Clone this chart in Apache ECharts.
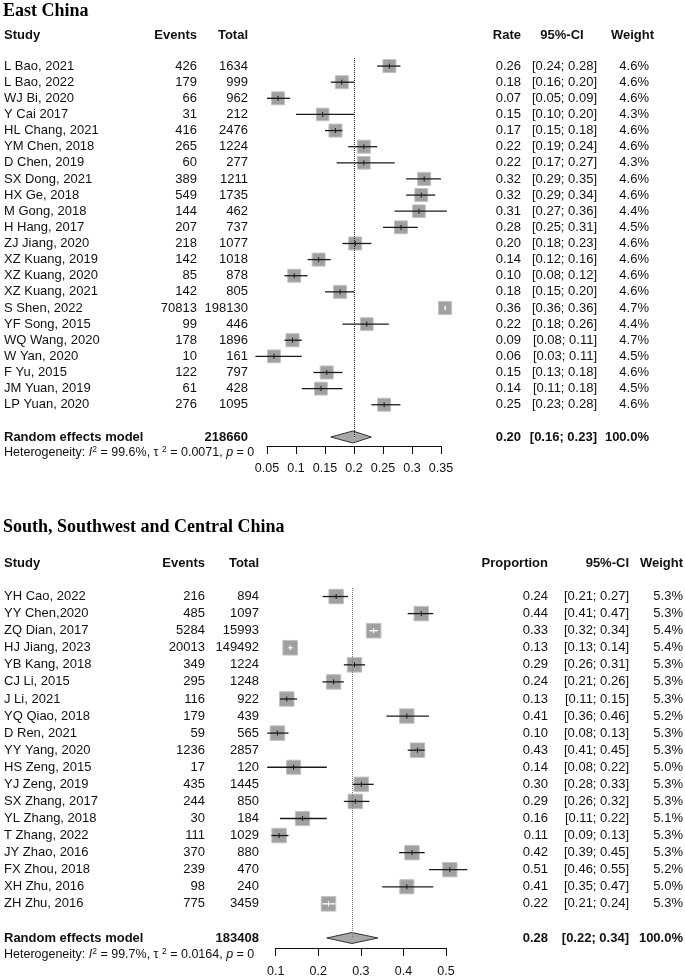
<!DOCTYPE html>
<html><head><meta charset="utf-8">
<script src="https://cdn.jsdelivr.net/npm/echarts@6/dist/echarts.min.js"></script>
<style>html,body{margin:0;padding:0;background:#fff}#c{width:685px;height:979px}</style>
</head><body><div id="c"></div>
<script>
// ---------- East China ----------
const eastStudies = ["L Bao, 2021","L Bao, 2022","WJ Bi, 2020","Y Cai 2017","HL Chang, 2021","YM Chen, 2018","D Chen, 2019","SX Dong, 2021","HX Ge, 2018","M Gong, 2018","H Hang, 2017","ZJ Jiang, 2020","XZ Kuang, 2019","XZ Kuang, 2020","XZ Kuang, 2021","S Shen, 2022","YF Song, 2015","WQ Wang, 2020","W Yan, 2020","F Yu, 2015","JM Yuan, 2019","LP Yuan, 2020"];
const eastEvents = [426,179,66,31,416,265,60,389,549,144,207,218,142,85,142,70813,99,178,10,122,61,276];
const eastTotal = [1634,999,962,212,2476,1224,277,1211,1735,462,737,1077,1018,878,805,198130,446,1896,161,797,428,1095];
const eastRate = [0.261,0.179,0.069,0.146,0.168,0.217,0.217,0.321,0.316,0.312,0.281,0.202,0.139,0.097,0.176,0.357,0.222,0.094,0.062,0.153,0.143,0.252];
const eastLower = [0.24,0.16,0.05,0.10,0.15,0.19,0.17,0.29,0.29,0.27,0.25,0.18,0.12,0.08,0.15,0.356,0.18,0.08,0.03,0.13,0.11,0.23];
const eastUpper = [0.28,0.20,0.09,0.20,0.18,0.24,0.27,0.35,0.34,0.36,0.31,0.23,0.16,0.12,0.20,0.359,0.26,0.11,0.11,0.18,0.18,0.28];
const eastWeight = [4.6,4.6,4.6,4.3,4.6,4.6,4.3,4.6,4.6,4.4,4.5,4.6,4.6,4.6,4.6,4.7,4.4,4.7,4.5,4.6,4.5,4.6];
const eastPooled = [0.198, 0.16, 0.23];
const eastPooledTotal = 218660;
const eastHet = ["99.6%", "0.0071", "0"];
const eastTicks = [0.05, 0.1, 0.15, 0.2, 0.25, 0.3, 0.35];

// ---------- South, Southwest and Central China ----------
const southStudies = ["YH Cao, 2022","YY Chen,2020","ZQ Dian, 2017","HJ Jiang, 2023","YB Kang, 2018","CJ Li, 2015","J Li, 2021","YQ Qiao, 2018","D Ren, 2021","YY Yang, 2020","HS Zeng, 2015","YJ Zeng, 2019","SX Zhang, 2017","YL Zhang, 2018","T Zhang, 2022","JY Zhao, 2016","FX Zhou, 2018","XH Zhu, 2016","ZH Zhu, 2016"];
const southEvents = [216,485,5284,20013,349,295,116,179,59,1236,17,435,244,30,111,370,239,98,775];
const southTotal = [894,1097,15993,149492,1224,1248,922,439,565,2857,120,1445,850,184,1029,880,470,240,3459];
const southRate = [0.242,0.442,0.330,0.134,0.2851,0.236,0.126,0.408,0.104,0.433,0.142,0.301,0.287,0.163,0.108,0.420,0.509,0.408,0.224];
const southLower = [0.21,0.41,0.32,0.13,0.26,0.21,0.11,0.36,0.08,0.41,0.08,0.28,0.26,0.11,0.09,0.39,0.46,0.35,0.21];
const southUpper = [0.27,0.47,0.34,0.14,0.31,0.26,0.15,0.46,0.13,0.45,0.22,0.33,0.32,0.22,0.13,0.45,0.55,0.47,0.24];
const southWeight = [5.3,5.3,5.4,5.4,5.3,5.3,5.3,5.2,5.3,5.3,5.0,5.3,5.3,5.1,5.3,5.3,5.2,5.0,5.3];
const southPooled = [0.279, 0.22, 0.34];
const southPooledTotal = 183408;
const southHet = ["99.7%", "0.0164", "0"];
const southTicks = [0.1, 0.2, 0.3, 0.4, 0.5];

const SANS = '"Liberation Sans", Arial, Helvetica, sans-serif';
const SERIF = '"Liberation Serif", "Times New Roman", serif';
const TXT = '#111';

function ciText(lo, hi) { return '[' + lo.toFixed(2) + '; ' + hi.toFixed(2) + ']'; }

function txt(x, y, s, align, bold) {
  return { type: 'text', style: { x: x, y: y, text: s, font: (bold ? 'bold ' : '') + '13px ' + SANS, fill: TXT, textAlign: align, textVerticalAlign: 'middle' } };
}

function rowRenderer(cfg, studies, events, totals, rates, lowers, uppers, weights) {
  return function (params, api) {
    const k = params.dataIndex;
    const i = api.value(0), est = api.value(1), lo = api.value(2), hi = api.value(3), w = api.value(4);
    const c = api.coord([est, i]);
    const l = api.coord([lo, i]);
    const h = api.coord([hi, i]);
    const s = cfg.sq * Math.sqrt(w / cfg.refW);
    const inside = (h[0] - l[0]) <= s;
    const lc = inside ? '#ffffff' : '#1a1a1a';
    const y = c[1];
    const ch = [
      { type: 'rect', shape: { x: c[0] - s / 2, y: y - s / 2, width: s, height: s }, style: { fill: '#a0a0a0', stroke: '#c2c2c2', lineWidth: 1 } },
      { type: 'line', shape: { x1: l[0], y1: y, x2: h[0], y2: y }, style: { stroke: lc, lineWidth: 1.3 } },
      { type: 'line', shape: { x1: c[0], y1: y - 2.5, x2: c[0], y2: y + 2.5 }, style: { stroke: lc, lineWidth: 1 } },
      txt(cfg.cStudy, y, studies[k], 'left'),
      txt(cfg.cEvents, y, String(events[k]), 'right'),
      txt(cfg.cTotal, y, String(totals[k]), 'right'),
      txt(cfg.cRate, y, rates[k].toFixed(2), 'right'),
      txt(cfg.cCI, y, ciText(lowers[k], uppers[k]), 'right'),
      txt(cfg.cWeight, y, weights[k].toFixed(1) + '%', 'right')
    ];
    return { type: 'group', children: ch };
  };
}

function pooledRenderer(cfg, pooledTotal, het) {
  return function (params, api) {
    const i = api.value(0), est = api.value(1), lo = api.value(2), hi = api.value(3);
    const c = api.coord([est, i]);
    const l = api.coord([lo, i]);
    const h = api.coord([hi, i]);
    const y = c[1];
    const hh = cfg.dh;
    const rich = {
      n: { fontSize: 12.5, fontFamily: SANS, fill: TXT, lineHeight: 15, verticalAlign: 'middle' },
      i: { fontSize: 12.5, fontFamily: SANS, fontStyle: 'italic', fill: TXT, lineHeight: 15, verticalAlign: 'middle' },
      s: { fontSize: 8.5, fontFamily: SANS, fill: TXT, lineHeight: 15, verticalAlign: 'top' }
    };
    return { type: 'group', children: [
      { type: 'polygon', shape: { points: [[l[0], y], [c[0], y - hh], [h[0], y], [c[0], y + hh]] }, style: { fill: '#a8a8a8', stroke: '#333', lineWidth: 1 } },
      txt(cfg.cStudy, y, 'Random effects model', 'left', true),
      txt(cfg.cTotal, y, String(pooledTotal), 'right', true),
      txt(cfg.cRate, y, est.toFixed(2), 'right', true),
      txt(cfg.cCI, y, ciText(lo, hi), 'right', true),
      txt(cfg.cWeight, y, '100.0%', 'right', true),
      { type: 'text', style: { x: cfg.cStudy, y: y + cfg.hetDy, textAlign: 'left', textVerticalAlign: 'middle',
          text: '{n|Heterogeneity: }{i|I}{s|2}{n| = ' + het[0] + ', τ }{s|2}{n| = ' + het[1] + ', }{i|p}{n| = ' + het[2] + '}',
          rich: rich } }
    ] };
  };
}

const eastCfg = { sq: 13, refW: 4.6, dh: 6, hetDy: 16, cStudy: 4, cEvents: 197, cTotal: 248, cRate: 521, cCI: 597, cWeight: 649 };
const southCfg = { sq: 14.5, refW: 5.3, dh: 5.5, hetDy: 17, cStudy: 4, cEvents: 205, cTotal: 259, cRate: 548, cCI: 629, cWeight: 683 };

function axisCfg(grid, ticks, offset, margin) {
  return {
    gridIndex: grid, type: 'value', position: 'bottom', min: ticks[0], max: ticks[ticks.length - 1],
    interval: +(ticks[1] - ticks[0]).toFixed(4), offset: offset,
    axisLine: { show: true, onZero: false, lineStyle: { color: '#111', width: 1 } },
    axisTick: { show: true, length: 8, lineStyle: { color: '#111', width: 1 } },
    axisLabel: { fontSize: 12.5, fontFamily: SANS, color: TXT, margin: margin, formatter: function (v) { return String(+v.toFixed(2)); } },
    splitLine: { show: false }
  };
}

const option = {
  animation: false,
  backgroundColor: '#fff',
  grid: [
    { left: 267, width: 174, top: 58, height: 379 },
    { left: 275.7, width: 170.3, top: 588, height: 350 }
  ],
  xAxis: [axisCfg(0, eastTicks, 9, 16), axisCfg(1, southTicks, 10, 17)],
  yAxis: [
    { gridIndex: 0, type: 'value', min: -0.5, max: eastStudies.length + 1, inverse: true, show: false },
    { gridIndex: 1, type: 'value', min: -0.5, max: southStudies.length + 1, inverse: true, show: false }
  ],
  graphic: [
    { type: 'text', x: 3, y: 11, style: { text: 'East China', font: 'bold 18px ' + SERIF, fill: '#000', textAlign: 'left', textVerticalAlign: 'middle' } },
    { type: 'text', x: 3, y: 527, style: { text: 'South, Southwest and Central China', font: 'bold 18px ' + SERIF, fill: '#000', textAlign: 'left', textVerticalAlign: 'middle' } },
    { type: 'group', children: [
      txt(4, 35, 'Study', 'left', true), txt(197, 35, 'Events', 'right', true), txt(248, 35, 'Total', 'right', true),
      txt(521, 35, 'Rate', 'right', true), txt(562, 35, '95%-CI', 'center', true), txt(654, 35, 'Weight', 'right', true),
      txt(4, 563, 'Study', 'left', true), txt(205, 563, 'Events', 'right', true), txt(259, 563, 'Total', 'right', true),
      txt(548, 563, 'Proportion', 'right', true), txt(629, 563, '95%-CI', 'right', true), txt(683, 563, 'Weight', 'right', true)
    ] }
  ],
  series: [
    { type: 'line', xAxisIndex: 0, yAxisIndex: 0, data: [], z: 1, silent: true,
      markLine: { silent: true, symbol: ['none', 'none'], label: { show: false }, lineStyle: { type: 'dotted', color: '#222', width: 1 }, data: [{ xAxis: eastPooled[0] }] } },
    { type: 'line', xAxisIndex: 1, yAxisIndex: 1, data: [], z: 1, silent: true,
      markLine: { silent: true, symbol: ['none', 'none'], label: { show: false }, lineStyle: { type: 'dotted', color: '#777', width: 1 }, data: [{ xAxis: southPooled[0] }] } },
    { type: 'custom', xAxisIndex: 0, yAxisIndex: 0, z: 3, clip: false, silent: true,
      renderItem: rowRenderer(eastCfg, eastStudies, eastEvents, eastTotal, eastRate, eastLower, eastUpper, eastWeight),
      encode: { x: [1, 2, 3], y: 0 },
      data: eastStudies.map(function (s, i) { return [i, eastRate[i], eastLower[i], eastUpper[i], eastWeight[i]]; }) },
    { type: 'custom', xAxisIndex: 0, yAxisIndex: 0, z: 4, clip: false, silent: true,
      renderItem: pooledRenderer(eastCfg, eastPooledTotal, eastHet),
      encode: { x: [1, 2, 3], y: 0 },
      data: [[eastStudies.length + 1, eastPooled[0], eastPooled[1], eastPooled[2]]] },
    { type: 'custom', xAxisIndex: 1, yAxisIndex: 1, z: 3, clip: false, silent: true,
      renderItem: rowRenderer(southCfg, southStudies, southEvents, southTotal, southRate, southLower, southUpper, southWeight),
      encode: { x: [1, 2, 3], y: 0 },
      data: southStudies.map(function (s, i) { return [i, southRate[i], southLower[i], southUpper[i], southWeight[i]]; }) },
    { type: 'custom', xAxisIndex: 1, yAxisIndex: 1, z: 4, clip: false, silent: true,
      renderItem: pooledRenderer(southCfg, southPooledTotal, southHet),
      encode: { x: [1, 2, 3], y: 0 },
      data: [[southStudies.length + 1, southPooled[0], southPooled[1], southPooled[2]]] }
  ]
};

const chart = echarts.init(document.getElementById('c'), null, { renderer: 'canvas' });
chart.setOption(option);
</script>
</body></html>
